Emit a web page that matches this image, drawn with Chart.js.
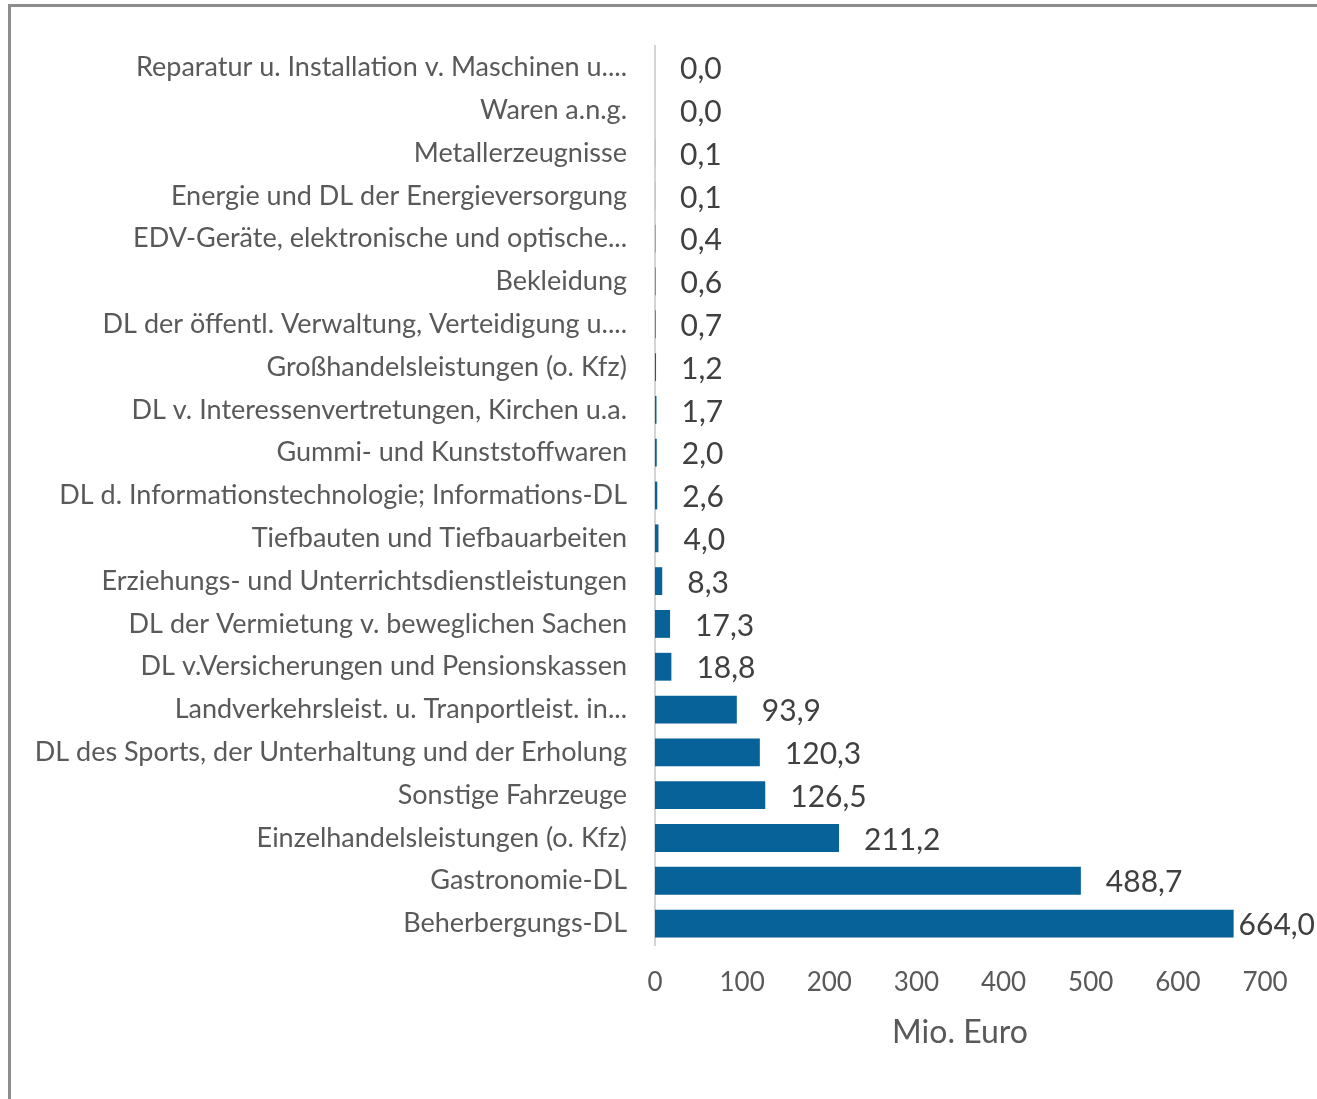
<!DOCTYPE html>
<html>
<head>
<meta charset="utf-8">
<script src="https://cdn.jsdelivr.net/npm/chart.js@4"></script>
<style>
  html, body { margin: 0; padding: 0; background: #ffffff; overflow: hidden; }
  #wrap { position: relative; width: 1317px; height: 1099px; }
  #frame { position: absolute; left: 8px; top: 4px; right: -20px; bottom: -20px;
           border-top: 3px solid #8c8c8c; border-left: 3px solid #8c8c8c; pointer-events: none; }
  canvas { position: absolute; left: 0; top: 0; }
</style>
</head>
<body>
<div id="wrap">
  <canvas id="c" width="1317" height="1099"></canvas>
  <div id="frame"></div>
</div>
<script>
const categories = [
  "Reparatur u. Installation v. Maschinen u....",
  "Waren a.n.g.",
  "Metallerzeugnisse",
  "Energie und DL der Energieversorgung",
  "EDV-Geräte, elektronische und optische...",
  "Bekleidung",
  "DL der öffentl. Verwaltung, Verteidigung u....",
  "Großhandelsleistungen (o. Kfz)",
  "DL v. Interessenvertretungen, Kirchen u.a.",
  "Gummi- und Kunststoffwaren",
  "DL d. Informationstechnologie; Informations-DL",
  "Tiefbauten und Tiefbauarbeiten",
  "Erziehungs- und Unterrichtsdienstleistungen",
  "DL der Vermietung v. beweglichen Sachen",
  "DL v.Versicherungen und Pensionskassen",
  "Landverkehrsleist. u. Tranportleist. in...",
  "DL des Sports, der Unterhaltung und der Erholung",
  "Sonstige Fahrzeuge",
  "Einzelhandelsleistungen (o. Kfz)",
  "Gastronomie-DL",
  "Beherbergungs-DL"
];
const values = [0.0, 0.0, 0.1, 0.1, 0.4, 0.6, 0.7, 1.2, 1.7, 2.0, 2.6, 4.0, 8.3, 17.3, 18.8, 93.9, 120.3, 126.5, 211.2, 488.7, 664.0];
const axisMin = 0;
const axisMax = 700;
const axisStep = 100;
const axisTitle = "Mio. Euro";

const FONT = "Lato, 'Open Sans', 'DejaVu Sans', sans-serif";

const valueLabels = {
  id: 'valueLabels',
  afterDatasetsDraw(chart) {
    const ctx = chart.ctx;
    const meta = chart.getDatasetMeta(0);
    ctx.save();
    ctx.font = "30px " + FONT;
    ctx.fillStyle = "#404040";
    ctx.textAlign = "left";
    ctx.textBaseline = "middle";
    meta.data.forEach((bar, i) => {
      const txt = values[i].toFixed(1).replace('.', ',');
      const w = ctx.measureText(txt).width;
      let x = bar.x + 25;
      const maxX = chart.width - w - 2;
      if (x > maxX) x = Math.max(bar.x + 3, maxX);
      ctx.fillText(txt, x, bar.y + 2);
    });
    ctx.restore();
  }
};

new Chart(document.getElementById('c'), {
  type: 'bar',
  data: {
    labels: categories,
    datasets: [{
      data: values,
      backgroundColor: '#07629a',
      borderWidth: 0,
      barPercentage: 0.65,
      categoryPercentage: 1.0
    }]
  },
  options: {
    indexAxis: 'y',
    responsive: false,
    animation: false,
    layout: { padding: { top: 46, right: 52, bottom: 47, left: 0 } },
    plugins: { legend: { display: false }, tooltip: { enabled: false } },
    scales: {
      y: {
        grid: { display: false, drawTicks: false },
        border: { display: true, color: '#d4d4d4', width: 2 },
        ticks: { color: '#595959', font: { family: FONT, size: 27 }, padding: 28, autoSkip: false },
        afterFit(scale) { scale.width = 655; }
      },
      x: {
        min: axisMin, max: axisMax,
        grid: { display: false, drawTicks: false },
        border: { display: false },
        ticks: { stepSize: axisStep, color: '#595959', font: { family: FONT, size: 26 }, padding: 22 },
        title: { display: true, text: axisTitle, color: '#595959', font: { family: FONT, size: 32 }, padding: { top: 4, bottom: 0 } },
        afterFit(scale) { scale.height = 107; }
      }
    }
  },
  plugins: [valueLabels]
});
</script>
</body>
</html>
